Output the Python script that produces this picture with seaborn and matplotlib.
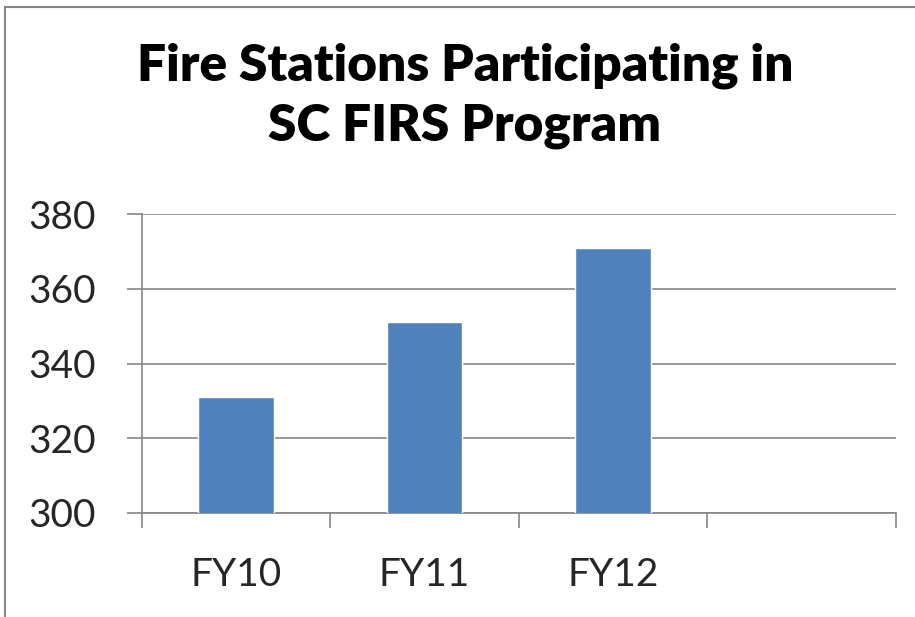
import numpy as np
import pandas as pd
import matplotlib
matplotlib.use("Agg")
import matplotlib.pyplot as plt
from matplotlib.patches import Rectangle
import seaborn as sns

# data
categories = ["FY10", "FY11", "FY12"]
slots = ["FY10", "FY11", "FY12", ""]   # excel left an empty 4th slot
stations = [331, 351, 371]
y_ticks = [300, 320, 340, 360, 380]

sns.set_theme(style="white")
plt.rcParams['font.family'] = ['Lato', 'DejaVu Sans']

grey = "#868686"
blue = "#4F81BD"

df = pd.DataFrame({"year": categories, "stations": stations})

fig = plt.figure(figsize=(9.15, 6.17), dpi=100)
ax = fig.add_axes([0.155, 0.1686, 0.824, 0.4845])

sns.barplot(data=df, x="year", y="stations", order=slots, color=blue,
            width=0.4, saturation=1, ax=ax, zorder=3)

ax.set_ylim(300, 380)
ax.set_xlim(-0.5, len(slots) - 0.5)
ax.set_yticks(y_ticks)
ax.set_yticklabels([str(v) for v in y_ticks], fontsize=28)
ax.set_xticks(range(len(categories)))
ax.set_xticklabels(categories, fontsize=28)
ax.set_xticks(np.arange(-0.5, len(slots)), minor=True)
ax.tick_params(axis="x", which="major", length=0, pad=32, bottom=True)
ax.tick_params(axis="x", which="minor", length=11, width=1.2, color=grey,
               direction="out", bottom=True)
ax.tick_params(axis="y", length=11, width=1.2, color=grey, direction="out", pad=22, left=True)
ax.set_xlabel("")
ax.set_ylabel("")
ax.yaxis.grid(True, color=grey, linewidth=1.2, zorder=0)
ax.set_axisbelow(True)

for side in ["top", "right"]:
    ax.spines[side].set_visible(False)
for side in ["left", "bottom"]:
    ax.spines[side].set_color(grey)
    ax.spines[side].set_linewidth(1.2)

# title, two centred lines
fig.text(0.508, 0.87, "Fire Stations Participating in", ha="center", va="baseline",
         fontsize=37, fontweight="heavy", color="black")
fig.text(0.508, 0.773, "SC FIRS Program", ha="center", va="baseline",
         fontsize=37, fontweight="heavy", color="black")

# outer chart frame (cut off at right and bottom in the original)
fig.patches.append(Rectangle((0.006, -0.05), 1.05, 1.038, transform=fig.transFigure,
                             fill=False, edgecolor=grey, linewidth=1.5))

fig.savefig("out.png", dpi=100)
